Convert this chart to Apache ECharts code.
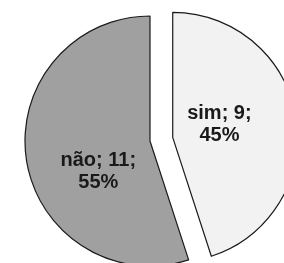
<!DOCTYPE html>
<html><head><meta charset="utf-8">
<script src="https://cdn.jsdelivr.net/npm/echarts@6/dist/echarts.min.js"></script>
<style>html,body{margin:0;padding:0;background:#fff}#c{width:284px;height:263px}</style>
</head><body><div id="c"></div>
<script>
var categories = ['sim', 'não'];
var values = [9, 11];
var percents = ['45%', '55%'];
var colors = ['#f2f2f2', '#a0a0a0'];
var labelShift = [[-18, -3], [13, 20]];

var chart = echarts.init(document.getElementById('c'), null, {renderer: 'canvas'});
chart.setOption({
  animation: false,
  series: [{
    type: 'pie',
    center: [150, 141],
    radius: 125,
    startAngle: 90,
    clockwise: true,
    selectedMode: 'multiple',
    selectedOffset: 23,
    avoidLabelOverlap: false,
    data: categories.map(function (c, i) {
      return {
        name: c, value: values[i], selected: i === 0,
        itemStyle: {color: colors[i]}
      };
    }),
    itemStyle: {borderColor: '#1a1a1a', borderWidth: 1.2},
    label: {
      position: 'inside',
      formatter: function (p) { return p.name + '; ' + p.value + ';\n' + percents[p.dataIndex]; },
      fontFamily: 'Liberation Sans, Arial, sans-serif',
      fontWeight: 'bold',
      fontSize: 20,
      lineHeight: 22,
      color: '#1a1a1a'
    },
    labelLayout: function (p) {
      return {dx: labelShift[p.dataIndex][0], dy: labelShift[p.dataIndex][1]};
    },
    emphasis: {disabled: true}
  }]
});
</script></body></html>
